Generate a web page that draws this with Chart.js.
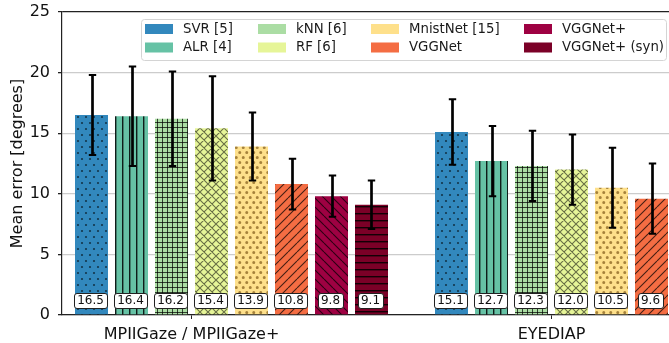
<!DOCTYPE html>
<html>
<head>
<meta charset="utf-8">
<script src="https://cdn.jsdelivr.net/npm/chart.js@4/dist/chart.umd.min.js"></script>
<style>
  html, body { margin: 0; padding: 0; background: #fff; overflow: hidden; }
  canvas { display: block; }
</style>
</head>
<body>
<canvas id="c" width="669" height="343"></canvas>
<script>
// Datasets shown on the x axis
const groups = ['MPIIGaze / MPIIGaze+', 'EYEDIAP'];
// Methods, in legend / bar order
const methods = ['SVR [5]', 'ALR [4]', 'kNN [6]', 'RF [6]', 'MnistNet [15]', 'VGGNet', 'VGGNet+', 'VGGNet+ (syn)'];
// Mean angular error and its standard deviation per method (degrees)
const mpiiMean = [16.5, 16.4, 16.2, 15.4, 13.9, 10.8, 9.8, 9.1];
const mpiiStd = [3.3, 4.1, 3.9, 4.3, 2.8, 2.1, 1.7, 2.0];
const eyediapMean = [15.1, 12.7, 12.3, 12.0, 10.5, 9.6, null, null];
const eyediapStd = [2.7, 2.9, 2.9, 2.9, 3.3, 2.9, null, null];
// Value axis ticks
const yTicks = [0, 5, 10, 15, 20, 25];

const colors = ['#3288bd', '#66c2a5', '#abdda4', '#e6f598', '#fee08b', '#f46d43', '#9e0142', '#7b0027'];
const hatches = ['.', '|', '+', 'x', 'o', '/', '\\', '-'];

const FONT = 'DejaVu Sans';
Chart.defaults.font.family = FONT;

// Each dataset occupies one slot per method, with one empty slot between datasets
const slotsPerGroup = methods.length + 1;
const groupStart = groups.map((g, i) => i * slotsPerGroup);
// Group label sits at the centre of the six methods evaluated on both datasets
const sharedCount = eyediapMean.filter(v => v != null).length;
const groupTicks = groupStart.map(s => s + (sharedCount - 1) / 2);

function makePattern(kind, color) {
  const sizes = { '.': [8, 12], '|': [7, 7], '+': [5, 5], 'x': [8, 8], 'o': [7, 10], '/': [9, 9], '\\': [9, 9], '-': [7, 7] };
  const [w, h] = sizes[kind];
  const c = document.createElement('canvas');
  c.width = w; c.height = h;
  const g = c.getContext('2d');
  g.fillStyle = color;
  g.fillRect(0, 0, w, h);
  const ink = 'rgba(0,0,0,0.72)';
  const line = 'rgba(0,0,0,0.85)';
  const soft = 'rgba(0,0,0,0.35)';
  g.strokeStyle = ink;
  g.fillStyle = ink;
  g.lineWidth = 1.1;
  g.beginPath();
  switch (kind) {
    case '.':
      g.fillStyle = 'rgba(0,0,0,0.6)';
      g.arc(2, 3, 1.1, 0, Math.PI * 2);
      g.moveTo(7.1, 9); g.arc(6, 9, 1.1, 0, Math.PI * 2);
      g.fill();
      break;
    case 'o':
      g.fillStyle = 'rgba(105,65,5,0.6)';
      g.arc(1.75, 2.5, 1.5, 0, Math.PI * 2);
      g.moveTo(6.75, 7.5); g.arc(5.25, 7.5, 1.5, 0, Math.PI * 2);
      g.fill();
      break;
    case '|':
      g.fillStyle = line;
      g.fillRect(3, 0, 1, h);
      g.fillStyle = soft;
      g.fillRect(4, 0, 1, h);
      break;
    case '-':
      g.fillStyle = line;
      g.fillRect(0, 3, w, 1);
      g.fillStyle = soft;
      g.fillRect(0, 4, w, 1);
      break;
    case '+':
      g.fillRect(2, 0, 1, h);
      g.fillRect(0, 2, w, 1);
      break;
    case 'x':
      g.strokeStyle = 'rgba(0,0,0,0.55)';
      for (const k of [-w, 0, w]) {
        g.moveTo(k, 0); g.lineTo(k + w, h);
        g.moveTo(k, h); g.lineTo(k + w, 0);
      }
      g.stroke();
      break;
    case '/':
      for (const k of [-w, 0, w]) { g.moveTo(k, h); g.lineTo(k + w, 0); }
      g.stroke();
      break;
    case '\\':
      for (const k of [-w, 0, w]) { g.moveTo(k, 0); g.lineTo(k + w, h); }
      g.stroke();
      break;
  }
  return g.createPattern(c, 'repeat');
}

const datasets = methods.map((name, i) => {
  const data = [{ x: groupStart[0] + i, y: mpiiMean[i], sd: mpiiStd[i] }];
  if (eyediapMean[i] != null) data.push({ x: groupStart[1] + i, y: eyediapMean[i], sd: eyediapStd[i] });
  return {
    label: name,
    data,
    backgroundColor: makePattern(hatches[i], colors[i]),
    borderWidth: 0,
    grouped: false,
    categoryPercentage: 1,
    barPercentage: 0.825
  };
});

// Error bars (mean ± std) and boxed value labels at the foot of each bar
const annotate = {
  id: 'annotate',
  afterDatasetsDraw(chart) {
    const { ctx, scales: { x, y } } = chart;
    ctx.save();
    chart.data.datasets.forEach(ds => {
      ds.data.forEach(p => {
        const px = Math.round(x.getPixelForValue(p.x)) + 0.5;
        const top = y.getPixelForValue(p.y + p.sd);
        const bot = y.getPixelForValue(p.y - p.sd);
        ctx.strokeStyle = '#000';
        ctx.lineWidth = 2.7;
        ctx.beginPath();
        ctx.moveTo(px, top); ctx.lineTo(px, bot);
        ctx.stroke();
        ctx.lineWidth = 2;
        ctx.beginPath();
        ctx.moveTo(px - 3.7, top); ctx.lineTo(px + 3.7, top);
        ctx.moveTo(px - 3.7, bot); ctx.lineTo(px + 3.7, bot);
        ctx.stroke();
      });
    });
    ctx.font = '12px "' + FONT + '"';
    ctx.textAlign = 'center';
    ctx.textBaseline = 'middle';
    const cy = y.getPixelForValue(0) - 15;
    chart.data.datasets.forEach(ds => {
      ds.data.forEach(p => {
        const txt = p.y.toFixed(1);
        const px = x.getPixelForValue(p.x) - 1;
        const w = ctx.measureText(txt).width + 6;
        const h = 15;
        ctx.beginPath();
        ctx.roundRect(Math.round(px - w / 2) + 0.5, Math.round(cy - h / 2) + 0.5, Math.round(w), Math.round(h), 2.5);
        ctx.fillStyle = '#fff';
        ctx.fill();
        ctx.lineWidth = 1;
        ctx.strokeStyle = '#222';
        ctx.stroke();
        ctx.fillStyle = '#111';
        ctx.fillText(txt, px, cy + 0.5);
      });
    });
    ctx.restore();
  }
};

// Legend: four columns of two entries
const legendBox = {
  id: 'legendBox',
  afterDraw(chart) {
    const ctx = chart.ctx;
    ctx.save();
    ctx.beginPath();
    ctx.roundRect(141.5, 19.5, 525, 41, 3);
    ctx.fillStyle = 'rgba(255,255,255,0.85)';
    ctx.fill();
    ctx.strokeStyle = '#d4d4d4';
    ctx.lineWidth = 1;
    ctx.stroke();
    const colX = [145, 258, 371, 524];
    const rowY = [29, 47.5];
    ctx.font = '13.3px "' + FONT + '"';
    ctx.textBaseline = 'middle';
    ctx.textAlign = 'left';
    methods.forEach((name, i) => {
      const cx = colX[Math.floor(i / 2)];
      const ry = rowY[i % 2];
      ctx.fillStyle = colors[i];
      ctx.fillRect(cx, ry - 5, 28, 10);
      ctx.fillStyle = '#1a1a1a';
      ctx.fillText(name, cx + 38, ry + 0.5);
    });
    ctx.restore();
  }
};

new Chart(document.getElementById('c'), {
  type: 'bar',
  data: { datasets },
  plugins: [annotate, legendBox],
  options: {
    responsive: false,
    animation: false,
    devicePixelRatio: 1,
    layout: { padding: { top: 12, right: 0, bottom: 0, left: 0 } },
    plugins: { legend: { display: false }, tooltip: { enabled: false } },
    scales: {
      x: {
        type: 'linear',
        min: -0.7375,
        max: 14.4375,
        offset: false,
        afterBuildTicks: s => { s.ticks = groupTicks.map(v => ({ value: v })); },
        afterFit: s => { s.height = 28; s.paddingLeft = 0; s.paddingRight = 0; },
        grid: { offset: false, drawOnChartArea: false, drawTicks: true, tickLength: 4, color: '#222', lineWidth: 1 },
        border: { color: '#222', width: 1.2 },
        ticks: {
          autoSkip: false, maxRotation: 0, padding: 6,
          color: '#111', font: { size: 16 },
          callback: (v, i) => groups[i]
        }
      },
      y: {
        min: 0,
        max: 25,
        afterBuildTicks: s => { s.ticks = yTicks.map(v => ({ value: v })); },
        afterFit: s => { s.width = 62; s.paddingTop = 0; s.paddingBottom = 0; },
        grid: {
          color: c => (c.tick && c.tick.value === 25) ? '#222' : '#cccccc',
          lineWidth: c => (c.tick && c.tick.value === 25) ? 1.2 : 1.3,
          tickColor: '#222', tickLength: 4, drawTicks: true
        },
        border: { color: '#222', width: 1.2 },
        ticks: { color: '#111', font: { size: 16 }, padding: 8 },
        title: {
          display: true, text: 'Mean error [degrees]',
          color: '#111', font: { size: 16 }, padding: { top: 8, bottom: 0 }
        }
      }
    }
  }
});
</script>
</body>
</html>
